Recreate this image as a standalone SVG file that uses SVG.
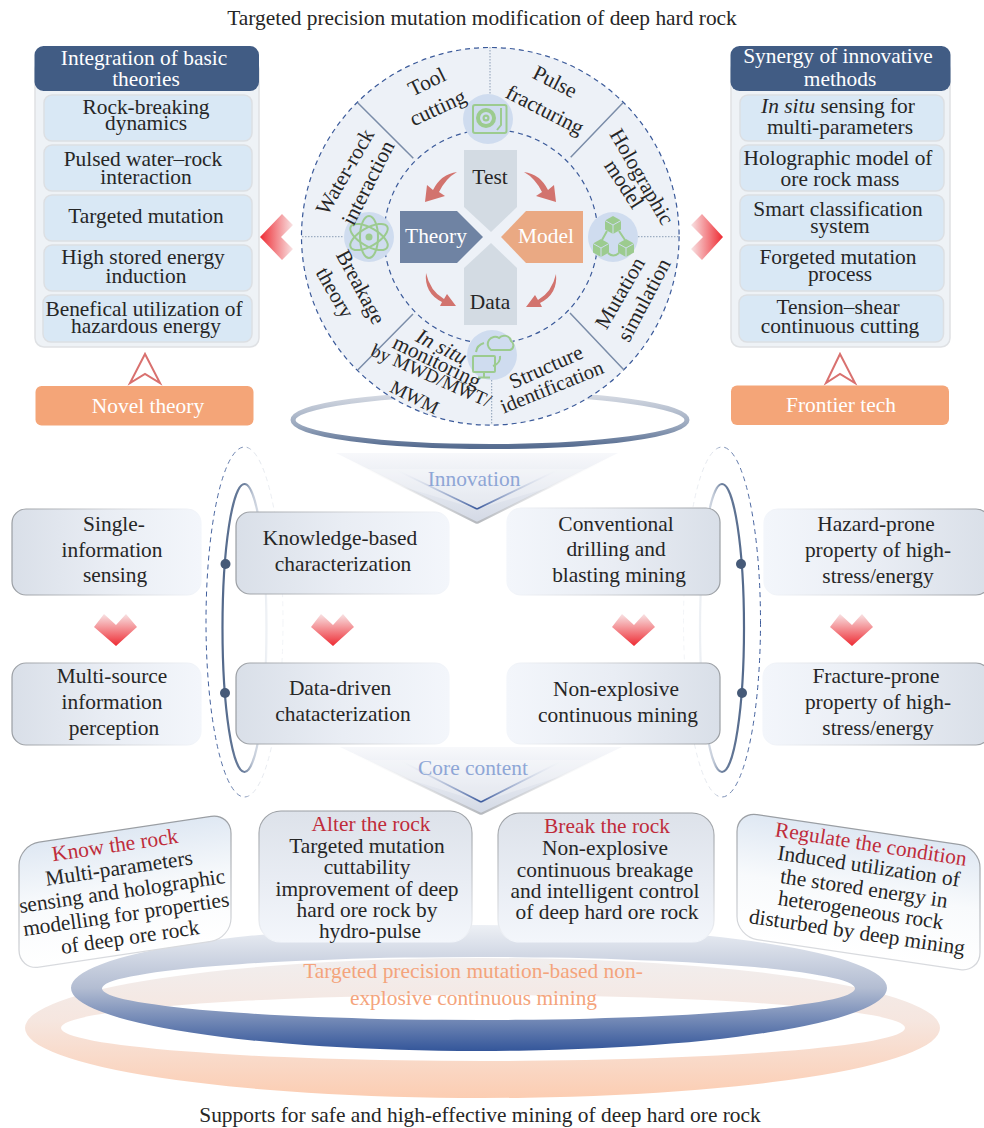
<svg xmlns="http://www.w3.org/2000/svg" xmlns:xlink="http://www.w3.org/1999/xlink" width="984" height="1128" viewBox="0 0 984 1128">
<style>
text{font-family:"Liberation Serif","Times New Roman",serif;font-size:21.4px;fill:#262626;text-anchor:middle}
.w{fill:#fff}.r{fill:#bf2c3b}.b{fill:#8ea6d6}.o{fill:#f4a47c}
.panel{fill:#eef2f6;stroke:#dfe1e4;stroke-width:1.5}
.head{fill:#415c84}
.cell{fill:#d9e8f5;stroke:#dcdfe3;stroke-width:1.5}
.tag{fill:#f4a578}
.hollow{fill:#fff;stroke:#d9716f;stroke-width:2}
.gl{fill:url(#boxL);stroke:url(#strokeL);stroke-width:1.2}
.gr{fill:url(#boxR);stroke:url(#strokeR);stroke-width:1.2}
.gv{fill:url(#boxV);stroke:url(#strokeV);stroke-width:1.2}
.gs{fill:url(#boxS);stroke:url(#strokeS);stroke-width:1.2}
.ic{fill:#cfdcef}
.g{fill:none;stroke:#9ccb8f;stroke-width:2}
.gf{fill:#9ccb8f}
.rc{fill:#d2736e}
.spoke{stroke:#7a8ca8;stroke-width:1.5}
.dot{stroke:#8b9db5;stroke-width:1;stroke-dasharray:1.5 1.5}
.dash{fill:none;stroke:#3b5a9a;stroke-width:1.2;stroke-dasharray:5 4}
</style>
<defs>
<linearGradient id="boxL" x1="0" x2="1" y1="0" y2="0"><stop offset="0" stop-color="#d9dfe8"/><stop offset=".5" stop-color="#e9edf4"/><stop offset="1" stop-color="#f3f6fb"/></linearGradient>
<linearGradient id="boxR" x1="1" x2="0" y1="0" y2="0"><stop offset="0" stop-color="#d9dfe8"/><stop offset=".5" stop-color="#e9edf4"/><stop offset="1" stop-color="#f3f6fb"/></linearGradient>
<linearGradient id="strokeL" x1="0" x2="1" y1="0" y2="0"><stop offset="0" stop-color="#9a9ea3"/><stop offset=".6" stop-color="#d8dade"/><stop offset="1" stop-color="#f3f6fb"/></linearGradient>
<linearGradient id="strokeR" x1="1" x2="0" y1="0" y2="0"><stop offset="0" stop-color="#9a9ea3"/><stop offset=".6" stop-color="#d8dade"/><stop offset="1" stop-color="#f3f6fb"/></linearGradient>
<linearGradient id="boxV" x1="0" x2="0" y1="0" y2="1"><stop offset="0" stop-color="#dde2ea"/><stop offset=".55" stop-color="#e9edf4"/><stop offset="1" stop-color="#f3f6fb"/></linearGradient>
<linearGradient id="strokeV" x1="0" x2="0" y1="0" y2="1"><stop offset="0" stop-color="#9a9ea3"/><stop offset=".7" stop-color="#d8dade"/><stop offset="1" stop-color="#f3f6fb"/></linearGradient>
<linearGradient id="boxS" x1="0" x2="0" y1="0" y2="1"><stop offset="0" stop-color="#dfe8f3"/><stop offset=".5" stop-color="#f8fafc"/><stop offset="1" stop-color="#fff"/></linearGradient>
<linearGradient id="strokeS" x1="0" x2="0" y1="0" y2="1"><stop offset="0" stop-color="#9a9ea3"/><stop offset="1" stop-color="#d8dade"/></linearGradient>
<linearGradient id="chevL" x1="0" x2="1" y1="0" y2="0"><stop offset="0" stop-color="#ee2b33"/><stop offset="1" stop-color="#f8e3e4"/></linearGradient>
<linearGradient id="chevR" x1="1" x2="0" y1="0" y2="0"><stop offset="0" stop-color="#ee2b33"/><stop offset="1" stop-color="#f8e3e4"/></linearGradient>
<linearGradient id="chevD" x1="0" x2="0" y1="1" y2="0"><stop offset="0" stop-color="#ee2b33"/><stop offset="1" stop-color="#f8e3e4"/></linearGradient>
<linearGradient id="ringTop" x1="0" x2="0" y1="0" y2="1"><stop offset="0" stop-color="#d8dce4"/><stop offset=".6" stop-color="#9aa8be"/><stop offset="1" stop-color="#566c90"/></linearGradient>
<linearGradient id="blueRing" x1="0" x2="0" y1="0" y2="1"><stop offset="0" stop-color="#edf0f5"/><stop offset=".5" stop-color="#b3bdd2"/><stop offset="1" stop-color="#34569a"/></linearGradient>
<linearGradient id="orangeRing" x1="0" x2="0" y1="0" y2="1"><stop offset="0" stop-color="#f1eeee"/><stop offset=".45" stop-color="#f6e6df"/><stop offset="1" stop-color="#fccdb2"/></linearGradient>
<linearGradient id="triFill" x1="0" x2="0" y1="0" y2="1"><stop offset="0" stop-color="#f7f8fb"/><stop offset="1" stop-color="#d3d9e5"/></linearGradient>
<linearGradient id="triBlueL" x1="0" x2="1" y1="0" y2="0"><stop offset="0" stop-color="#fff" stop-opacity="0"/><stop offset="1" stop-color="#3b5a9d"/></linearGradient>
<linearGradient id="triBlueR" x1="1" x2="0" y1="0" y2="0"><stop offset="0" stop-color="#fff" stop-opacity="0"/><stop offset="1" stop-color="#3b5a9d"/></linearGradient>
<linearGradient id="triGreyL" x1="0" x2="1" y1="0" y2="0"><stop offset="0" stop-color="#fff" stop-opacity="0"/><stop offset="1" stop-color="#b5b8bd"/></linearGradient>
<linearGradient id="triGreyR" x1="1" x2="0" y1="0" y2="0"><stop offset="0" stop-color="#fff" stop-opacity="0"/><stop offset="1" stop-color="#b5b8bd"/></linearGradient>
<linearGradient id="sideL" x1="0" x2="1" y1="0" y2="0"><stop offset="0" stop-color="#53698b"/><stop offset=".5" stop-color="#6c7f9d"/><stop offset=".7" stop-color="#c4ccd9"/><stop offset="1" stop-color="#eef1f5"/></linearGradient>
<linearGradient id="sideR" x1="1" x2="0" y1="0" y2="0"><stop offset="0" stop-color="#53698b"/><stop offset=".5" stop-color="#6c7f9d"/><stop offset=".7" stop-color="#c4ccd9"/><stop offset="1" stop-color="#eef1f5"/></linearGradient>
<linearGradient id="dashL" x1="0" x2="1" y1="0" y2="0"><stop offset="0" stop-color="#3b5a9a"/><stop offset=".5" stop-color="#7f92b6"/><stop offset=".6" stop-color="#dfe3ea"/><stop offset="1" stop-color="#f2f4f7"/></linearGradient>
<linearGradient id="dashR" x1="1" x2="0" y1="0" y2="0"><stop offset="0" stop-color="#3b5a9a"/><stop offset=".5" stop-color="#7f92b6"/><stop offset=".6" stop-color="#dfe3ea"/><stop offset="1" stop-color="#f2f4f7"/></linearGradient>
<polygon id="dc" points="-22,627 -12,614 0,625 10,614 21,627 0,646" fill="url(#chevD)"/>
<path id="cv" class="rc" d="M457,172 Q441,174 433,190 L427,185 L425,202 L445,196 L439,192 Q446,178 457,172 Z"/>
<path id="cb" class="rc" d="M426,273 Q430,291 444,299 L447,294 L456,306 L440,306 L442,302 Q424,293 426,273 Z"/>
<g id="cube"><polygon class="gf" points="0,-9 8,-4.500 8,4.500 0,9 -8,4.500 -8,-4.500"/><path d="M-8,-4.500 L0,0 L8,-4.500 M0,0 V9" stroke="#cfdcef" stroke-width="1" fill="none"/></g>
</defs>

<g id="rings-bottom">
<path fill="url(#orangeRing)" fill-rule="evenodd" d="M25,1028 a457.500,70 0 1 0 915,0 a457.500,70 0 1 0 -915,0 Z M61,1028 a422,33 0 1 0 844,0 a422,33 0 1 0 -844,0 Z"/>
<path fill="url(#blueRing)" fill-rule="evenodd" d="M71,988 a408,63 0 1 0 816,0 a408,63 0 1 0 -816,0 Z M102,988.500 a376.500,31.500 0 1 0 753,0 a376.500,31.500 0 1 0 -753,0 Z"/>
</g>

<text x="482" y="25">Targeted precision mutation modification of deep hard rock</text>

<ellipse id="ring-top" cx="490" cy="420" rx="197" ry="26.500" fill="none" stroke="url(#ringTop)" stroke-width="5"/>

<g id="connectors">
<polygon fill="url(#triFill)" points="336,453 618,453 477,523"/>
<path d="M336,453 L477,523" stroke="url(#triGreyL)" stroke-width="2" fill="none"/>
<path d="M618,453 L477,523" stroke="url(#triGreyR)" stroke-width="2" fill="none"/>
<polygon fill="#fff" fill-opacity=".25" points="343,469 611,469 477,509"/>
<path d="M390,467 L477,509" stroke="url(#triBlueL)" stroke-width="1.800" fill="none"/>
<path d="M564,467 L477,509" stroke="url(#triBlueR)" stroke-width="1.800" fill="none"/>
<polygon fill="url(#triFill)" points="340,747 622,747 481,814"/>
<path d="M340,747 L481,814" stroke="url(#triGreyL)" stroke-width="2" fill="none"/>
<path d="M622,747 L481,814" stroke="url(#triGreyR)" stroke-width="2" fill="none"/>
<polygon fill="#fff" fill-opacity=".25" points="347,760 612,760 481,802"/>
<path d="M395,758 L481,802" stroke="url(#triBlueL)" stroke-width="1.800" fill="none"/>
<path d="M568,758 L481,802" stroke="url(#triBlueR)" stroke-width="1.800" fill="none"/>

<ellipse cx="244.500" cy="622" rx="38.500" ry="175" fill="none" stroke="url(#dashL)" stroke-width="1" stroke-dasharray="5 4"/>
<ellipse cx="722" cy="622" rx="38.500" ry="175" fill="none" stroke="url(#dashR)" stroke-width="1" stroke-dasharray="5 4"/>
<ellipse cx="244.500" cy="628" rx="22" ry="144" fill="none" stroke="url(#sideL)" stroke-width="2.200"/>
<ellipse cx="722" cy="628" rx="22" ry="144" fill="none" stroke="url(#sideR)" stroke-width="2.200"/>
</g>

<g id="chevrons">
<polygon fill="url(#chevL)" points="260,237 282,214 293,225 281,237 293,249 282,260"/>
<polygon fill="url(#chevR)" points="723,237 702,214 691,225 703,237 691,249 702,260"/>
<use xlink:href="#dc" href="#dc" x="116"/>
<use xlink:href="#dc" href="#dc" x="333"/>
<use xlink:href="#dc" href="#dc" x="634"/>
<use xlink:href="#dc" href="#dc" x="852"/>
</g>

<g id="panel-left">
<rect class="panel" x="35" y="60" width="224" height="287" rx="9"/>
<rect class="head" x="34.500" y="46" width="224.500" height="45" rx="9"/>
<text class="w" x="144" y="65">Integration of basic</text><text class="w" x="146" y="86">theories</text>
<rect class="cell" x="44" y="95" width="208" height="46" rx="8"/>
<text x="146" y="114">Rock-breaking</text><text x="146" y="130">dynamics</text>
<rect class="cell" x="44" y="145" width="208" height="46" rx="8"/>
<text x="143" y="166">Pulsed water–rock</text><text x="146" y="184">interaction</text>
<rect class="cell" x="44" y="195" width="208" height="46" rx="8"/>
<text x="146" y="223">Targeted mutation</text>
<rect class="cell" x="44" y="245" width="208" height="46" rx="8"/>
<text x="143" y="264">High stored energy</text><text x="146" y="283">induction</text>
<rect class="cell" x="43" y="295" width="209" height="47" rx="8"/>
<text x="144" y="316">Benefical utilization of</text><text x="146" y="333">hazardous energy</text>
</g>
<g id="tag-left">
<polygon class="hollow" points="145,354 130,383 145,374 160,383"/>
<rect class="tag" x="35.500" y="386" width="218" height="39.500" rx="6"/>
<text class="w" x="148" y="413">Novel theory</text>
</g>

<g id="panel-right">
<rect class="panel" x="731" y="60" width="219" height="287" rx="9"/>
<rect class="head" x="730.500" y="46" width="220" height="45" rx="9"/>
<text class="w" x="838" y="63">Synergy of innovative</text><text class="w" x="840" y="86">methods</text>
<rect class="cell" x="740" y="95" width="204" height="46" rx="8"/>
<text x="838" y="113"><tspan font-style="italic">In situ</tspan> sensing for</text><text x="840" y="134">multi-parameters</text>
<rect class="cell" x="740" y="145" width="204" height="46" rx="8"/>
<text x="838" y="165">Holographic model of</text><text x="840" y="186">ore rock mass</text>
<rect class="cell" x="740" y="195" width="204" height="46" rx="8"/>
<text x="838" y="216">Smart classification</text><text x="840" y="233">system</text>
<rect class="cell" x="740" y="245" width="204" height="46" rx="8"/>
<text x="838" y="264">Forgeted mutation</text><text x="840" y="281">process</text>
<rect class="cell" x="739" y="295" width="204.500" height="47" rx="8"/>
<text x="838" y="314">Tension–shear</text><text x="840" y="333">continuous cutting</text>
</g>
<g id="tag-right">
<polygon class="hollow" points="840,354 826,383 840,374 855,383"/>
<rect class="tag" x="731" y="385.500" width="218" height="39.500" rx="6"/>
<text class="w" x="841" y="412">Frontier tech</text>
</g>

<g id="wheel">
<circle cx="490.300" cy="236.300" r="188.800" fill="#edf1f7"/>
<circle class="dash" cx="490.300" cy="236.300" r="188.800"/>
<circle class="dash" cx="491" cy="236.500" r="107"/>
<path class="spoke" d="M357.700,102.700 L413.300,158.300 M623,102.700 L570.700,157.300 M413,314 L357.700,370 M570,313 L624,370"/>
<path class="dot" d="M490,47 V94 M302,236.700 H343 M638,236.700 H679 M491.700,380 V425"/>
<circle class="ic" cx="488" cy="119" r="25"/>
<circle class="ic" cx="369" cy="237" r="25"/>
<circle class="ic" cx="613" cy="237" r="25"/>
<circle class="ic" cx="492" cy="355" r="25"/>
</g>

<g id="icons">
<rect class="g" x="473" y="105" width="33.500" height="28" rx="2"/>
<circle class="gf" cx="486" cy="118" r="10"/><circle cx="486" cy="118" r="6" fill="#cfdcef"/><circle class="gf" cx="486" cy="118" r="3.500"/><circle cx="486" cy="118" r="1.300" fill="#cfdcef"/>
<path class="g" d="M501,108 V125 L497,130" stroke-width="1.500"/>
<g class="g" transform="translate(369,237)"><ellipse rx="21" ry="9" transform="rotate(30)"/><ellipse rx="21" ry="9" transform="rotate(90)"/><ellipse rx="21" ry="9" transform="rotate(150)"/></g>
<circle class="gf" cx="369" cy="237" r="3.500"/>
<path class="g" stroke-width="1.500" d="M607,231 L602,240 M619,231 L625,240 M608,253 Q613,258 619,253"/>
<use xlink:href="#cube" href="#cube" x="613" y="225"/>
<use xlink:href="#cube" href="#cube" x="601" y="248"/>
<use xlink:href="#cube" href="#cube" x="626" y="248"/>
<rect class="g" x="473" y="356" width="22" height="16" rx="1"/>
<path class="g" d="M484,372 V377 M478,377.500 H490"/>
<path class="g" d="M491,350 H510 A5,5 0 0 0 511,341 A7,7 0 0 0 499,338 A6,6 0 0 0 491,350 Z" stroke-width="1.700"/>
<path class="g" stroke-width="1.500" d="M476,352 Q477,345 484,343 M500,356 Q501,363 493,366"/>
</g>

<g id="wheel-labels">
<g transform="translate(427,82) rotate(-26)"><text y="7">Tool</text></g>
<g transform="translate(437.700,107.700) rotate(-25)"><text y="7">cutting</text></g>
<g transform="translate(555,81.700) rotate(27)"><text y="7">Pulse</text></g>
<g transform="translate(545,110) rotate(27)"><text y="7">fracturing</text></g>
<g transform="translate(641.700,176.700) rotate(60)"><text y="7">Holographic</text></g>
<g transform="translate(624,184) rotate(57)"><text y="7">model</text></g>
<g transform="translate(620,293) rotate(-60)"><text y="7">Mutation</text></g>
<g transform="translate(644,300) rotate(-62)"><text y="7">simulation</text></g>
<g transform="translate(546,367) rotate(-24)"><text y="7">Structure</text></g>
<g transform="translate(551.700,386.700) rotate(-22)"><text y="7" font-size="20.500" style="font-size:20.500px">identification</text></g>
<g transform="translate(441.700,346.700) rotate(27)"><text y="7" font-style="italic">In situ</text></g>
<g transform="translate(437,361.700) rotate(26)"><text y="7">monitoring</text></g>
<g transform="translate(431.700,375) rotate(24)"><text y="7" style="font-size:19px">by MWD/MWT/</text></g>
<g transform="translate(415,396.700) rotate(27)"><text y="7" style="font-size:19px">MWM</text></g>
<g transform="translate(360.700,287) rotate(62)"><text y="7">Breakage</text></g>
<g transform="translate(335,292.700) rotate(60)"><text y="7">theory</text></g>
<g transform="translate(345,171.700) rotate(-60)"><text y="7">Water-rock</text></g>
<g transform="translate(368,182.700) rotate(-63)"><text y="7">interaction</text></g>
</g>

<g id="center">
<polygon id="node-test" fill="#d3dbe3" points="464,150 517,150 517,207 491,232 464,207"/>
<polygon id="node-data" fill="#d3dbe3" points="491,243 517,268 517,325 464,325 464,268"/>
<polygon id="node-theory" fill="#6f83a3" points="400,211 457,211 483,237 457,263 400,263"/>
<polygon id="node-model" fill="#eaa983" points="583,211 526,211 501,237 526,263 583,263"/>
<text x="490" y="184">Test</text>
<text x="490" y="309">Data</text>
<text class="w" x="436" y="243">Theory</text>
<text class="w" x="546" y="243">Model</text>
<use xlink:href="#cv" href="#cv"/>
<use xlink:href="#cv" href="#cv" transform="translate(981,0) scale(-1,1)"/>
<use xlink:href="#cb" href="#cb"/>
<use xlink:href="#cb" href="#cb" transform="translate(982,1) scale(-1,1)"/>
</g>

<g id="labels-chevron"><text class="b" x="474" y="486">Innovation</text><text class="b" x="473" y="775">Core content</text></g>

<g id="node-single"><rect class="gl" x="12" y="509" width="189" height="86" rx="14"/><text x="114" y="531">Single-</text><text x="112" y="557">information</text><text x="115" y="582">sensing</text></g>
<g id="node-multi"><rect class="gl" x="12" y="663" width="189" height="82" rx="14"/><text x="112" y="683">Multi-source</text><text x="112" y="709">information</text><text x="114" y="735">perception</text></g>
<g id="node-knowledge"><rect class="gl" x="236" y="512" width="213" height="82" rx="14"/><text x="340" y="545">Knowledge-based</text><text x="343" y="571">characterization</text></g>
<g id="node-datadriven"><rect class="gl" x="236" y="663" width="213" height="81" rx="14"/><text x="340" y="695">Data-driven</text><text x="343" y="721">chatacterization</text></g>
<g id="node-conventional"><rect class="gr" x="507" y="508" width="213" height="87" rx="14"/><text x="616" y="531">Conventional</text><text x="616" y="556">drilling and</text><text x="619" y="582">blasting mining</text></g>
<g id="node-nonexplosive"><rect class="gr" x="507" y="663" width="213" height="81" rx="14"/><text x="616" y="696">Non-explosive</text><text x="618" y="722">continuous mining</text></g>
<g id="node-hazard"><rect class="gr" x="764" y="509" width="226" height="86" rx="14"/><text x="876" y="531">Hazard-prone</text><text x="878" y="557">property of high-</text><text x="878" y="583">stress/energy</text></g>
<g id="node-fracture"><rect class="gr" x="763" y="663" width="227" height="82" rx="14"/><text x="876" y="683">Fracture-prone</text><text x="878" y="709">property of high-</text><text x="878" y="735">stress/energy</text></g>

<g id="dots" fill="#465a78"><circle cx="225.500" cy="564" r="5"/><circle cx="225" cy="693" r="5"/><circle cx="741" cy="564" r="5"/><circle cx="742" cy="693" r="5"/></g>

<g id="node-alter"><rect class="gv" x="259" y="811" width="213" height="131" rx="22"/>
<text class="r" x="371" y="831">Alter the rock</text><text x="367" y="853">Targeted mutation</text><text x="367" y="874">cuttability</text><text x="367" y="896">improvement of deep</text><text x="367" y="917">hard ore rock by</text><text x="370" y="938">hydro-pulse</text></g>
<g id="node-break"><rect class="gv" x="498" y="813" width="216" height="129" rx="22"/>
<text class="r" x="607" y="833">Break the rock</text><text x="605" y="855">Non-explosive</text><text x="605" y="877">continuous breakage</text><text x="605" y="898">and intelligent control</text><text x="607" y="919">of deep hard ore rock</text></g>
<g id="node-know"><rect class="gs" transform="matrix(1,-0.15,0,1,0,0)" x="19" y="848" width="212" height="125" rx="20"/>
<text class="r" transform="translate(116,852) rotate(-8.300)">Know the rock</text>
<text transform="translate(120,875) rotate(-8.300)">Multi-parameters</text>
<text transform="translate(123,898) rotate(-8.300)">sensing and holographic</text>
<text transform="translate(127,921) rotate(-8.300)">modelling for properties</text>
<text transform="translate(131,944) rotate(-8.300)">of deep ore rock</text></g>
<g id="node-regulate"><rect class="gs" transform="matrix(1,0.148,0,1,0,0)" x="737" y="702.500" width="243" height="125" rx="20"/>
<text class="r" transform="translate(870,851) rotate(8.800)">Regulate the condition</text>
<text transform="translate(867.700,873) rotate(8.500)">Induced utilization of</text>
<text transform="translate(863,895.300) rotate(8.500)">the stored energy in</text>
<text transform="translate(859.700,917) rotate(8.500)">heterogeneous rock</text>
<text transform="translate(856,939) rotate(8.500)">disturbed by deep mining</text></g>

<g id="center-label"><text class="o" x="473" y="978">Targeted precision mutation-based non-</text><text class="o" x="473.500" y="1005">explosive continuous mining</text></g>
<text x="480" y="1122">Supports for safe and high-effective mining of deep hard ore rock</text>
</svg>
